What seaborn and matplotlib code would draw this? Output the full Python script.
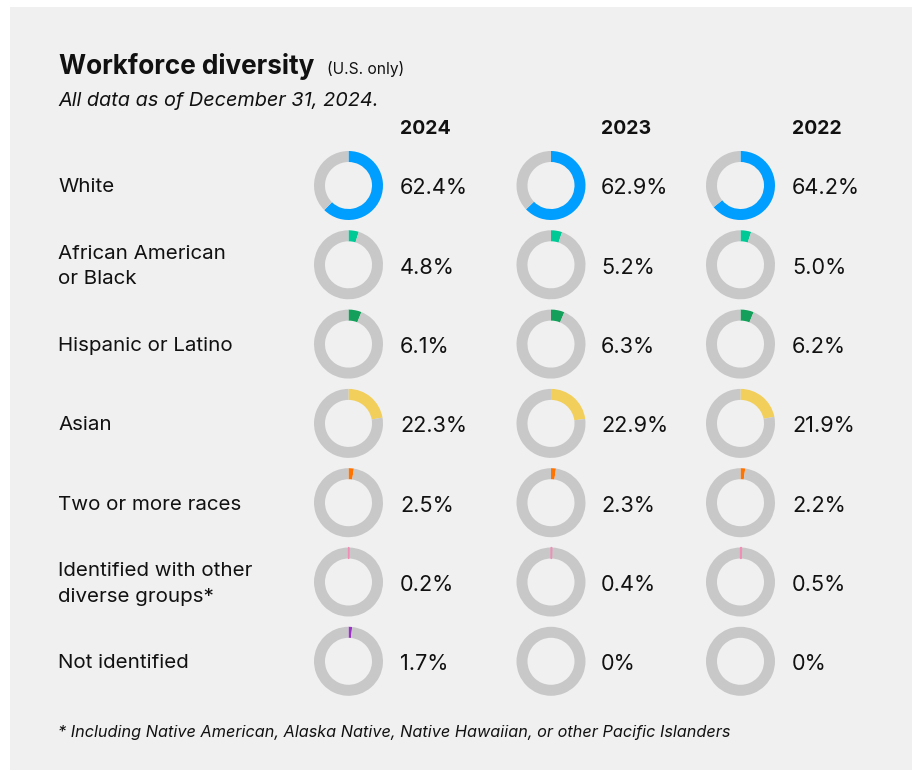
import matplotlib
matplotlib.use("Agg")
import matplotlib.pyplot as plt
from matplotlib.patches import Rectangle
import seaborn as sns

# Workforce composition by group (U.S. only), percent of employees
groups = [
    "White",
    "African American\nor Black",
    "Hispanic or Latino",
    "Asian",
    "Two or more races",
    "Identified with other\ndiverse groups*",
    "Not identified",
]
years = ["2024", "2023", "2022"]
share_2024 = [62.4, 4.8, 6.1, 22.3, 2.5, 0.2, 1.7]
share_2023 = [62.9, 5.2, 6.3, 22.9, 2.3, 0.4, 0.0]
share_2022 = [64.2, 5.0, 6.2, 21.9, 2.2, 0.5, 0.0]
shares_by_year = [share_2024, share_2023, share_2022]

group_colors = ["#009EFF", "#00C996", "#14A05A", "#F2CF5B",
                "#FF7300", "#F28DB6", "#9B32C8"]
ring_gray = "#C8C8C8"
panel_bg = "#F0F0F0"

title = "Workforce diversity"
title_note = "(U.S. only)"
subtitle = "All data as of December 31, 2024."
footnote = "* Including Native American, Alaska Native, Native Hawaiian, or other Pacific Islanders"

sns.set_theme(style="white")
plt.rcParams["font.family"] = ["Inter", "DejaVu Sans"]

W, H = 913, 772
fig = plt.figure(figsize=(W / 100, H / 100), dpi=100, facecolor="white")
ax = fig.add_axes([0, 0, 1, 1])
ax.set_axis_off()


def Y(y):
    return H - y


# panel background
ax.add_patch(Rectangle((10, Y(770)), 902, 763, facecolor=panel_bg,
                       edgecolor="none", zorder=0))

# layout (pixels)
col_x = [348.5, 551.0, 740.5]
label_x = [400, 601, 792]
row_y0, row_step = 185.5, 79.3
outer_r, ring_w = 34.5, 11.0
text_color = "#111111"

# header
ax.text(59, Y(66), title, fontsize=18.8, fontweight="bold",
        color=text_color, va="center", ha="left")
ax.text(327, Y(69), title_note, fontsize=11.2, color=text_color,
        va="center", ha="left")
ax.text(58, Y(101), subtitle, fontsize=14.3, fontstyle="italic",
        color=text_color, va="center", ha="left")
for lx, yr in zip(label_x, years):
    ax.text(lx, Y(129), yr, fontsize=14, fontweight="bold",
            color=text_color, va="center", ha="left")

for i, grp in enumerate(groups):
    cy = row_y0 + i * row_step
    ax.text(58, Y(cy + 2), grp, fontsize=14.8, color=text_color,
            va="center", ha="left", linespacing=1.5)
    for j, shares in enumerate(shares_by_year):
        v = shares[i]
        wedges, _ = ax.pie(
            [v, 100 - v],
            colors=[group_colors[i], ring_gray],
            startangle=90, counterclock=False,
            center=(col_x[j], Y(cy)), radius=outer_r,
            wedgeprops=dict(width=ring_w, linewidth=0),
        )
        if 0 < v < 1.5:
            wedges[0].set_edgecolor(group_colors[i])
            wedges[0].set_linewidth(0.9)
            wedges[0].set_zorder(3)
        label = "0%" if v == 0 else f"{v:.1f}%"
        ax.text(label_x[j], Y(cy + 3), label, fontsize=15.6,
                color=text_color, va="center", ha="left")

ax.text(58, Y(733), footnote, fontsize=11.7, fontstyle="italic",
        color=text_color, va="center", ha="left")

ax.set_xlim(0, W)
ax.set_ylim(0, H)
ax.set_aspect("equal")
ax.set_position([0, 0, 1, 1])

fig.savefig("out.png", dpi=100, facecolor="white")
